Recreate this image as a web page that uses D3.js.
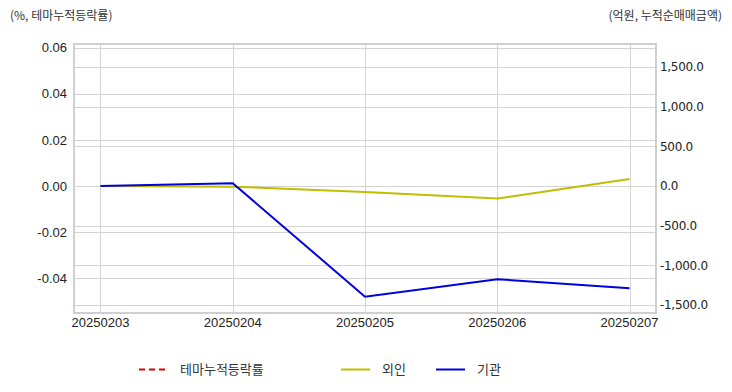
<!DOCTYPE html>
<html>
<head>
<meta charset="utf-8">
<script src="https://cdn.jsdelivr.net/npm/d3@7"></script>
<style>
  body { margin: 0; background: #fff; }
  svg { display: block; font-family: "Liberation Sans", "Noto Sans CJK KR", sans-serif; }
</style>
</head>
<body>
<svg id="chart" width="732" height="392"></svg>
<script>
// data
var dates = ["20250203", "20250204", "20250205", "20250206", "20250207"];
var themeRate = [null, null, null, null, null];   // 테마누적등락률 (no values shown)
var foreign = [0, -8, -75, -158, 88];             // 외인
var institution = [0, 35, -1395, -1175, -1290];   // 기관
var leftTicks = [-0.04, -0.02, 0, 0.02, 0.04, 0.06];
var rightTicks = [-1500, -1000, -500, 0, 500, 1000, 1500];

var svg = d3.select("#chart");
var mLeft = 74, mRight = 656, mTop = 44, mBottom = 313;

var x = d3.scalePoint().domain(dates).range([mLeft, mRight]).padding(0.2);
var yL = d3.scaleLinear().domain([-0.0552, 0.0617]).range([mBottom, mTop]);
var yR = d3.scaleLinear().domain([-1601, 1790]).range([mBottom, mTop]);

var grid = svg.append("g").attr("stroke", "#d4d4d4").attr("stroke-width", 1);

// horizontal grid for both axes
leftTicks.forEach(function(t) {
  var y = Math.round(yL(t)) + 0.5;
  grid.append("line").attr("x1", mLeft).attr("x2", mRight).attr("y1", y).attr("y2", y);
});
rightTicks.forEach(function(t) {
  var y = Math.round(yR(t)) + 0.5;
  grid.append("line").attr("x1", mLeft).attr("x2", mRight).attr("y1", y).attr("y2", y);
});
// vertical grid
dates.forEach(function(d) {
  var xx = Math.round(x(d)) + 0.5;
  grid.append("line").attr("x1", xx).attr("x2", xx).attr("y1", mTop).attr("y2", mBottom);
});

// frame
svg.append("rect")
  .attr("x", mLeft).attr("y", mTop)
  .attr("width", mRight - mLeft).attr("height", mBottom - mTop)
  .attr("fill", "none").attr("stroke", "#cfcfcf").attr("stroke-width", 2);

// left tick labels
svg.append("g").selectAll("text")
  .data(leftTicks)
  .enter().append("text")
  .attr("x", mLeft - 7)
  .attr("y", function(d) { return yL(d); })
  .attr("dy", "0.35em")
  .attr("text-anchor", "end")
  .attr("font-size", 13)
  .attr("fill", "#222")
  .text(function(d) { return d3.format(".2f")(d).replace("−", "-"); });

// right tick labels
var fmtR = d3.format(",.1f");
svg.append("g").selectAll("text")
  .data(rightTicks)
  .enter().append("text")
  .attr("x", mRight + 4)
  .attr("y", function(d) { return yR(d); })
  .attr("dy", "0.35em")
  .attr("font-family", "'DejaVu Sans', sans-serif")
  .attr("font-size", 12)
  .attr("letter-spacing", "-0.3px")
  .attr("fill", "#222")
  .text(function(d) { return fmtR(d).replace("−", "-"); });

// x labels
svg.append("g").selectAll("text")
  .data(dates)
  .enter().append("text")
  .attr("x", function(d) { return x(d); })
  .attr("y", 327)
  .attr("text-anchor", "middle")
  .attr("font-size", 13)
  .attr("fill", "#222")
  .text(function(d) { return d; });

// axis titles
svg.append("text")
  .attr("x", 10).attr("y", 20)
  .attr("font-family", "'Noto Sans CJK KR', sans-serif")
  .attr("font-size", 12).attr("fill", "#333")
  .text("(%, 테마누적등락률)");
svg.append("text")
  .attr("x", 722).attr("y", 20)
  .attr("text-anchor", "end")
  .attr("font-family", "'Noto Sans CJK KR', sans-serif")
  .attr("font-size", 12).attr("fill", "#333")
  .text("(억원, 누적순매매금액)");

// lines
var lineL = d3.line()
  .defined(function(d) { return d != null; })
  .x(function(d, i) { return x(dates[i]); })
  .y(function(d) { return yL(d); });
var lineR = d3.line()
  .defined(function(d) { return d != null; })
  .x(function(d, i) { return x(dates[i]); })
  .y(function(d) { return yR(d); });

svg.append("path").datum(themeRate)
  .attr("d", lineL).attr("fill", "none")
  .attr("stroke", "#e00000").attr("stroke-width", 2).attr("stroke-dasharray", "6,4");
svg.append("path").datum(foreign)
  .attr("d", lineR).attr("fill", "none")
  .attr("stroke", "#bfbf00").attr("stroke-width", 2);
svg.append("path").datum(institution)
  .attr("d", lineR).attr("fill", "none")
  .attr("stroke", "#0000e0").attr("stroke-width", 2);

// legend
var legend = [
  { name: "테마누적등락률", color: "#e00000", dash: "6,4", x: 139 },
  { name: "외인", color: "#bfbf00", dash: null, x: 341 },
  { name: "기관", color: "#0000e0", dash: null, x: 436 }
];
var lg = svg.append("g");
legend.forEach(function(l) {
  lg.append("line")
    .attr("x1", l.x).attr("x2", l.x + 29)
    .attr("y1", 369.5).attr("y2", 369.5)
    .attr("stroke", l.color).attr("stroke-width", 2)
    .attr("stroke-dasharray", l.dash);
  lg.append("text")
    .attr("x", l.x + 41).attr("y", 369)
    .attr("dy", "0.35em")
    .attr("font-family", "'Noto Sans CJK KR', sans-serif")
    .attr("font-size", 13).attr("fill", "#333")
    .text(l.name);
});
</script>
</body>
</html>
